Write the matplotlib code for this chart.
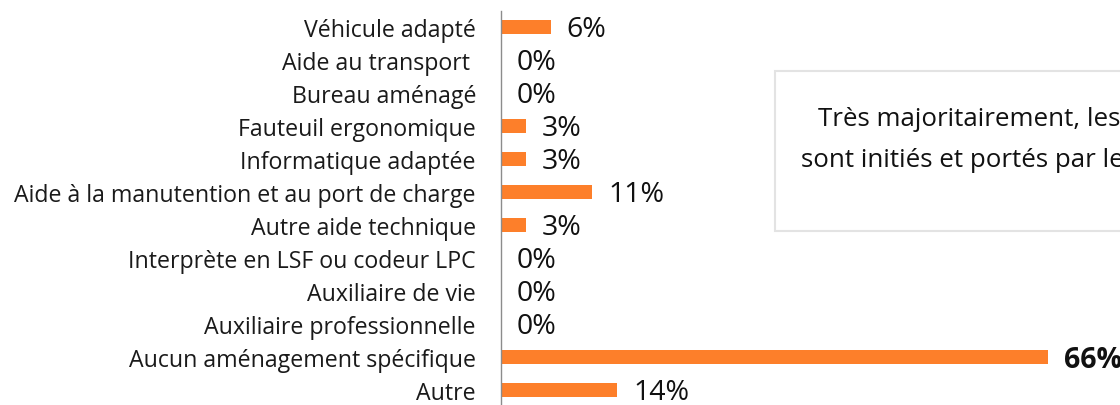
import matplotlib
matplotlib.use('Agg')
import matplotlib.pyplot as plt
from matplotlib.patches import Rectangle

categories = [
    'Véhicule adapté',
    'Aide au transport ',
    'Bureau aménagé',
    'Fauteuil ergonomique',
    'Informatique adaptée',
    'Aide à la manutention et au port de charge',
    'Autre aide technique',
    'Interprète en LSF ou codeur LPC',
    'Auxiliaire de vie',
    'Auxiliaire professionnelle',
    'Aucun aménagement spécifique',
    'Autre',
]
values = [6, 0, 0, 3, 3, 11, 3, 0, 0, 0, 66, 14]
value_labels = ['6%', '0%', '0%', '3%', '3%', '11%', '3%', '0%', '0%', '0%', '66%', '14%']
note_lines = ['Très majoritairement, les', 'sont initiés et portés par le']

ORANGE = '#fd7f2a'
W, H = 1120, 406
plt.rcParams['font.family'] = ['Open Sans', 'DejaVu Sans']

fig = plt.figure(figsize=(W / 100, H / 100), dpi=100)
# axes placed in pixel terms: left spine at x=501, rows 33px apart
row = 33.0
top_px = 28 - row / 2
bot_px = top_px + row * len(categories)
left_px = 501
ax = fig.add_axes([left_px / W, (H - bot_px) / H, (W - left_px) / W, (bot_px - top_px) / H])

px_per_pct = 8.29
ax.set_xlim(0, (W - left_px) / px_per_pct)
ypos = list(range(len(categories)))
ax.barh(ypos, values, height=0.41, color=ORANGE)
ax.set_ylim(len(categories) - 0.5, -0.5)

ax.set_yticks(ypos)
ax.set_yticklabels(categories, fontsize=16.7, color='#1a1a1a')
ax.tick_params(axis='y', length=0, pad=18)
ax.set_xticks([])
for s in ['top', 'right', 'bottom']:
    ax.spines[s].set_visible(False)
ax.spines['left'].set_color('#8c8c8c')
ax.spines['left'].set_linewidth(1.0)

for i, (v, lab) in enumerate(zip(values, value_labels)):
    ax.annotate(lab, (v, i), xytext=(11.5, -1.5), textcoords='offset points',
                va='center', ha='left', fontsize=20.5, color='#111111',
                fontweight='bold' if v == max(values) else 'normal',
                annotation_clip=False)

# text box on the right, cut by the figure edge (as in the original)
fig.patches.append(Rectangle((775 / W, (H - 232) / H), (W - 775 + 20) / W, 160 / H,
                             transform=fig.transFigure, facecolor='white',
                             edgecolor='#e3e3e3', linewidth=1.5, zorder=0))
fig.text(818 / W, 1 - 119 / H, note_lines[0], fontsize=18.6, color='#111111',
         va='center', ha='left')
fig.text(801 / W, 1 - 161 / H, note_lines[1], fontsize=18.6, color='#111111',
         va='center', ha='left')

fig.savefig('out.png', dpi=100)
